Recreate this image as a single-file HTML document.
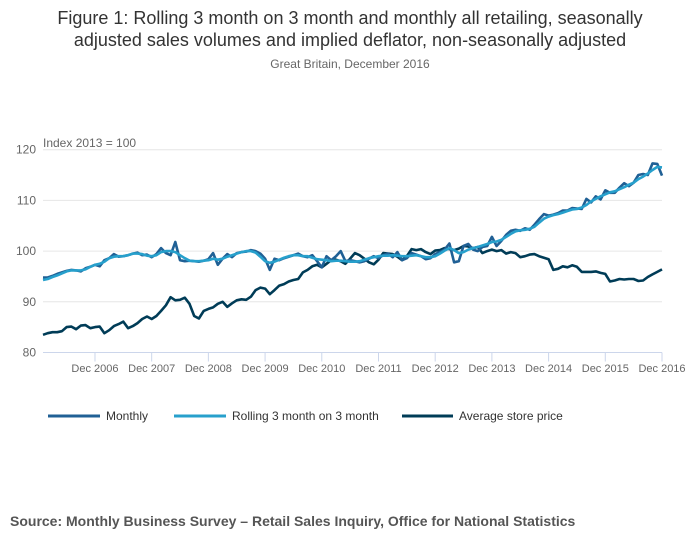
<!DOCTYPE html>
<html><head><meta charset="utf-8"><style>
body{margin:0;background:#fff;font-family:"Liberation Sans",sans-serif;}
svg text{font-family:"Liberation Sans",sans-serif;}
</style></head><body>
<svg width="700" height="549" viewBox="0 0 700 549">
<text x="350" y="24" text-anchor="middle" font-size="18" fill="#333">Figure 1: Rolling 3 month on 3 month and monthly all retailing, seasonally</text>
<text x="350" y="46" text-anchor="middle" font-size="18" fill="#333">adjusted sales volumes and implied deflator, non-seasonally adjusted</text>
<text x="350" y="68" text-anchor="middle" font-size="12" fill="#666">Great Britain, December 2016</text>
<text x="43" y="147" font-size="12" fill="#666">Index 2013 = 100</text>
<g id="grid"></g><g id="xaxis"></g><g id="series"></g>
<g>
<line x1="48" y1="416" x2="100" y2="416" stroke="#206095" stroke-width="3"/>
<text x="106" y="420" font-size="12" fill="#333">Monthly</text>
<line x1="174" y1="416" x2="226" y2="416" stroke="#27a0cc" stroke-width="3"/>
<text x="232" y="420" font-size="12" fill="#333">Rolling 3 month on 3 month</text>
<line x1="402" y1="416" x2="453" y2="416" stroke="#003c57" stroke-width="3"/>
<text x="459" y="420" font-size="12" fill="#333">Average store price</text>
</g>
<text x="10" y="526" font-size="14" font-weight="bold" fill="#555">Source: Monthly Business Survey – Retail Sales Inquiry, Office for National Statistics</text>
</svg>
<script>
const yTicks=[80,90,100,110,120];
const xTickLabels=["Dec 2006","Dec 2007","Dec 2008","Dec 2009","Dec 2010","Dec 2011","Dec 2012","Dec 2013","Dec 2014","Dec 2015","Dec 2016"];
const xTickIndex=[11,23,35,47,59,71,83,95,107,119,131];
const monthly=[94.8,94.8,95.1,95.5,95.8,96.1,96.3,96.2,96.0,96.6,96.9,97.3,
97.0,98.2,98.6,99.4,98.9,99.0,99.2,99.5,99.7,99.2,99.3,98.8,
99.4,100.6,99.6,99.2,101.8,98.2,98.0,98.1,98.0,97.9,98.1,98.4,
99.6,97.3,98.5,99.4,98.8,99.6,99.8,99.9,100.2,100.0,99.5,98.5,
96.3,98.5,98.2,98.6,98.9,99.2,99.5,99.0,98.8,99.2,98.0,96.8,
99.0,98.2,99.0,100.0,98.0,98.2,98.0,97.8,98.0,98.5,99.0,98.6,
99.2,99.5,98.8,99.8,98.2,98.6,99.6,99.3,99.0,98.4,98.6,99.4,
99.8,100.3,101.5,97.8,98.0,101.0,101.4,100.3,100.0,100.8,101.0,102.8,
101.0,102.0,103.2,104.0,104.2,104.0,104.5,104.2,105.2,106.3,107.3,107.0,
107.2,107.5,108.0,108.0,108.5,108.4,108.3,110.3,109.6,110.8,110.2,112.0,
111.5,111.5,112.5,113.4,112.8,113.5,115.0,115.2,115.0,117.3,117.2,114.9];
const rolling=[94.3,94.5,94.9,95.2,95.6,96.0,96.2,96.2,96.2,96.4,96.9,97.3,
97.5,97.9,98.6,98.9,99.0,99.0,99.2,99.5,99.5,99.4,99.1,99.0,
99.2,99.8,100.0,100.0,99.8,99.2,98.6,98.1,98.0,98.0,98.1,98.2,
98.5,98.3,98.5,98.9,99.2,99.5,99.8,100.0,100.0,99.7,98.9,98.0,
97.7,97.9,98.3,98.7,99.0,99.2,99.2,99.0,99.0,98.7,98.4,98.3,
98.2,98.0,98.1,98.1,98.0,97.9,97.9,98.0,98.3,98.6,98.8,99.0,
99.1,99.1,99.2,99.1,99.0,99.0,99.1,99.2,99.0,98.8,98.8,99.0,
99.5,100.1,100.6,100.2,99.6,99.8,100.3,100.6,100.8,101.1,101.4,101.8,
101.9,102.2,102.8,103.4,103.9,104.1,104.2,104.4,104.8,105.6,106.4,106.8,
107.1,107.3,107.6,107.9,108.2,108.3,108.6,109.1,109.8,110.3,110.8,111.2,
111.6,111.8,112.2,112.6,113.1,113.5,114.2,114.7,115.3,116.0,116.6,116.5];
const storePrice=[83.5,83.8,84.0,84.0,84.2,85.0,85.1,84.6,85.3,85.4,84.8,85.0,
85.1,83.8,84.4,85.2,85.6,86.1,84.8,85.2,85.8,86.6,87.1,86.6,
87.2,88.2,89.3,90.9,90.3,90.4,90.8,89.6,87.2,86.7,88.2,88.6,
88.9,89.6,90.0,89.0,89.7,90.3,90.5,90.4,91.0,92.3,92.8,92.6,
91.5,92.3,93.2,93.5,94.0,94.3,94.5,95.8,96.3,97.0,97.3,96.8,
97.5,98.2,98.3,98.0,97.5,98.5,99.6,99.2,98.5,97.8,97.4,98.3,
99.6,99.5,99.4,98.9,98.2,99.0,100.4,100.2,100.4,99.8,99.4,100.1,
100.2,100.6,100.4,100.2,100.5,101.0,100.9,100.6,100.8,99.6,100.0,100.3,
100.0,100.2,99.5,99.8,99.6,98.8,99.0,99.3,99.4,99.0,98.7,98.4,
96.3,96.5,97.0,96.8,97.2,96.9,95.9,95.9,95.9,96.0,95.7,95.5,
94.0,94.2,94.5,94.4,94.5,94.5,94.1,94.2,94.9,95.4,95.9,96.4];
const X0=43,X1=662,Y80=352.5,PXU=5.07;
function xs(i){return X0+(X1-X0)*i/131;}
function ys(v){return Y80-(v-80)*PXU;}
const NS="http://www.w3.org/2000/svg";
function mk(tag,attrs,parent){const e=document.createElementNS(NS,tag);for(const k in attrs)e.setAttribute(k,attrs[k]);parent.appendChild(e);return e;}
const grid=document.getElementById('grid');
yTicks.forEach(v=>{
 if(v>80){const l=mk('line',{x1:X0,x2:X1,y1:ys(v),y2:ys(v),stroke:'#e6e6e6','stroke-width':1},grid);
 
 }
 const t=mk('text',{x:36,y:ys(v)+4,'text-anchor':'end','font-size':12,fill:'#666'},grid);
 t.textContent=v;
 
 
});
const xa=document.getElementById('xaxis');
const ax=mk('line',{x1:X0,x2:X1,y1:Y80,y2:Y80,stroke:'#ccd6eb','stroke-width':1},xa);


xTickLabels.forEach((lab,k)=>{
 const x=xs(xTickIndex[k]);
 const tk=mk('line',{x1:x,x2:x,y1:Y80,y2:Y80+9,stroke:'#ccd6eb','stroke-width':1},xa);
 
 
 const t=mk('text',{x:x,y:372,'text-anchor':'middle','font-size':11,fill:'#666'},xa);
 t.textContent=lab;
 
 
});
const sg=document.getElementById('series');
[[storePrice,'#003c57','line-average-store-price'],[monthly,'#206095','line-monthly'],[rolling,'#27a0cc','line-rolling-3-month']].forEach(([arr,c,n])=>{
 const d=arr.map((v,i)=>(i?'L':'M')+xs(i).toFixed(1)+' '+ys(v).toFixed(1)).join(' ');
 const p=mk('path',{d:d,fill:'none',stroke:c,'stroke-width':2.6,'stroke-linejoin':'round'},sg);
 
 
});
</script>
</body></html>
